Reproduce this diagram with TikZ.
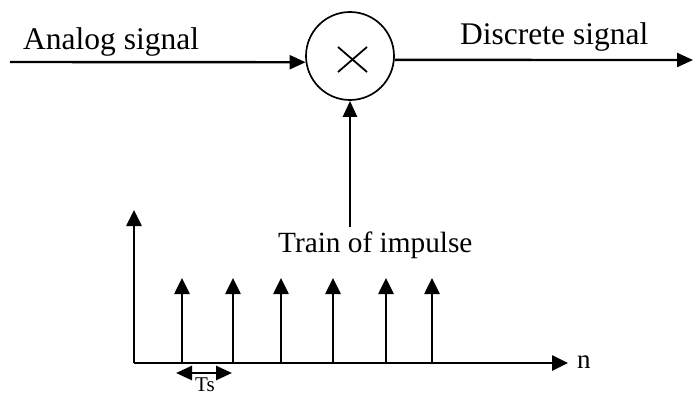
\documentclass[tikz,border=0pt]{standalone}
\usepackage{fontspec}
\setmainfont{Liberation Serif}
\usetikzlibrary{arrows.meta}

\begin{document}
\begin{tikzpicture}[x=1pt,y=-1pt,
  sig/.style={line width=2.4pt,-{Triangle[length=16pt,width=14pt]}},
  imp/.style={line width=2.6pt,-{Triangle[length=16pt,width=15pt]}},
  span/.style={line width=2.6pt,{Triangle[length=16pt,width=14pt]}-{Triangle[length=16pt,width=14pt]}},
  biglbl/.style={font=\fontsize{31.5}{36}\selectfont,inner sep=0pt},
  midlbl/.style={font=\fontsize{29.3}{34}\selectfont,inner sep=0pt},
  smalllbl/.style={font=\fontsize{27}{31}\selectfont,inner sep=0pt},
  tinylbl/.style={font=\fontsize{21}{25}\selectfont,inner sep=0pt},
  mixer/.style={circle,draw,line width=1.7pt,minimum size=88pt,inner sep=0pt}]
\useasboundingbox (0,0) rectangle (694,396);

% multiplier
\node[mixer] (mul) at (350,56) {};
\draw[line width=1.8pt] (338,47) -- (367,72) (338,72) -- (367,47);

% signal path
\coordinate (in) at (10,62);
\coordinate (out) at (693,60);
\coordinate (tr) at (350,227);
\draw[sig] (in) -- (mul.188);
\draw[sig] (mul.-5) -- (out);
\draw[sig] (tr) -- (mul.south);

\node[biglbl,anchor=base west] (alab) at (23,50) {Analog signal};
\node[biglbl,anchor=base west] (dlab) at (460,45) {Discrete signal};
\node[midlbl,anchor=base west] (tlab) at (278,252) {Train of impulse};

% impulse train plot
\coordinate (o) at (134,363);
\coordinate (ytop) at (134,210);
\coordinate (xend) at (568,363);
\draw[imp] (o) -- (ytop);
\draw[imp] (o) -- (xend);
\node[smalllbl,anchor=base west] (nlab) at (577,368) {n};

\foreach \k/\x in {1/182,2/233,3/281,4/333,5/386,6/432}{
  \coordinate (b\k) at (\x,363);
  \coordinate (t\k) at (\x,278);
  \draw[imp] (b\k) -- (t\k);
}

% sampling period
\coordinate (tsl) at (176,373);
\coordinate (tsr) at (232,373);
\draw[span] (tsl) -- (tsr);
\node[tinylbl,anchor=base] (tslab) at (205,391) {Ts};
\end{tikzpicture}
\end{document}
